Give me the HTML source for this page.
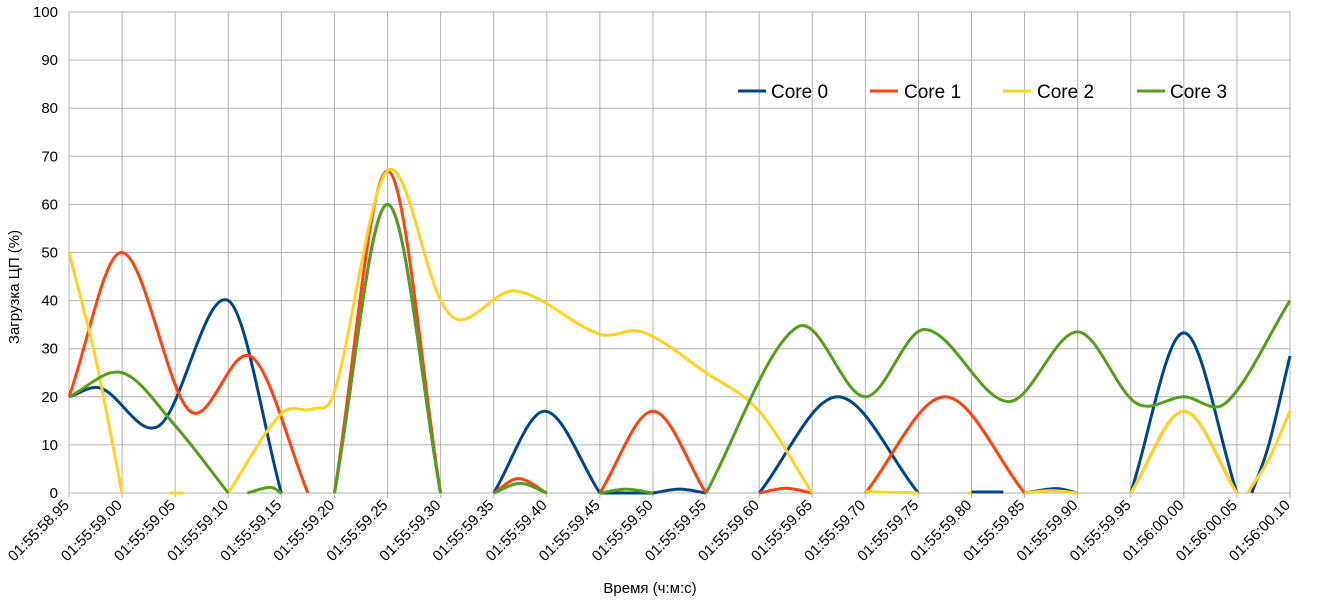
<!DOCTYPE html>
<html><head><meta charset="utf-8"><style>
html,body{margin:0;padding:0;background:#fff;}
svg{display:block;font-family:"Liberation Sans","DejaVu Sans",sans-serif;}
</style></head><body>
<svg id="chart" width="1332" height="602" viewBox="0 0 1332 602" xmlns="http://www.w3.org/2000/svg">
<g id="grid"></g>
<g id="yticks"></g>
<g id="xticks"></g>
<g id="series"></g>
<text x="19" y="287" font-size="15" text-anchor="middle" transform="rotate(-90 19 287)">Загрузка ЦП (%)</text>
<text x="650" y="593" font-size="15" text-anchor="middle">Время (ч:м:с)</text>
<g font-size="19">
<g><line x1="738" y1="91" x2="766" y2="91" stroke="#004586" stroke-width="3"/><text x="771" y="98">Core 0</text></g>
<g><line x1="870" y1="91" x2="898" y2="91" stroke="#ff420e" stroke-width="3"/><text x="904" y="98">Core 1</text></g>
<g><line x1="1003" y1="91" x2="1031" y2="91" stroke="#ffd320" stroke-width="3"/><text x="1037" y="98">Core 2</text></g>
<g><line x1="1137" y1="91" x2="1165" y2="91" stroke="#579d1c" stroke-width="3"/><text x="1170" y="98">Core 3</text></g>
</g>
</svg>
<script>
const yTicks = [0,10,20,30,40,50,60,70,80,90,100];
const xTickLabels = ["01:55:58.95","01:55:59.00","01:55:59.05","01:55:59.10","01:55:59.15","01:55:59.20","01:55:59.25","01:55:59.30","01:55:59.35","01:55:59.40","01:55:59.45","01:55:59.50","01:55:59.55","01:55:59.60","01:55:59.65","01:55:59.70","01:55:59.75","01:55:59.80","01:55:59.85","01:55:59.90","01:55:59.95","01:56:00.00","01:56:00.05","01:56:00.10"];
// times in seconds after 01:55:00; segments separated (gaps)
const core0 = [
 [[58.95,20],[58.98,21.8],[59.035,14],[59.10,40],[59.15,0]],
 [[59.20,0],[59.25,60],[59.30,0]],
 [[59.35,0],[59.398,17],[59.45,0]],
 [[59.45,0],[59.50,0]],
 [[59.50,0],[59.525,0.8],[59.55,0]],
 [[59.60,0],[59.674,20],[59.75,0]],
 [[59.80,0.2],[59.83,0.2]],
 [[59.85,0],[59.88,0.9],[59.90,0]],
 [[59.95,0],[60.00,33.3],[60.05,0]],
 [[60.064,0],[60.08,10],[60.10,28.5]]
];
const core1 = [
 [[58.95,20],[59.00,50],[59.064,17],[59.122,28.3],[59.175,0]],
 [[59.20,0],[59.25,67],[59.30,0]],
 [[59.35,0],[59.373,3],[59.40,0]],
 [[59.45,0],[59.50,17],[59.55,0]],
 [[59.60,0],[59.625,1],[59.65,0]],
 [[59.70,0],[59.775,20],[59.85,0]],
 [[59.95,0],[60.00,17],[60.05,0]]
];
const core2 = [
 [[58.95,50],[58.975,28],[59.00,0]],
 [[59.045,0],[59.058,0]],
 [[59.10,0],[59.15,16.5],[59.18,17.5],[59.20,21],[59.25,67],[59.30,40],[59.32,36],[59.37,42],[59.45,33],[59.49,33.5],[59.55,25],[59.60,17],[59.65,0]],
 [[59.70,0.3],[59.75,0]],
 [[59.797,0],[59.80,0]],
 [[59.85,0],[59.875,0.5],[59.90,0]],
 [[59.95,0],[60.00,17],[60.05,0]],
 [[60.06,0],[60.08,7],[60.10,17]]
];
const core3 = [
 [[58.95,20],[59.00,25],[59.05,14],[59.10,0]],
 [[59.118,0],[59.14,1.2],[59.15,0]],
 [[59.20,0],[59.25,60],[59.30,0]],
 [[59.35,0],[59.375,2],[59.40,0]],
 [[59.45,0],[59.475,0.8],[59.50,0]],
 [[59.55,0],[59.636,34.5],[59.70,20],[59.756,34],[59.835,19],[59.90,33.5],[59.955,18.7],[60.00,20],[60.04,18.8],[60.10,40]]
];
const seriesList = [["core-0",core0,"#004586"],["core-1",core1,"#ff420e"],["core-2",core2,"#ffd320"],["core-3",core3,"#579d1c"]];

const X0=69, X1=1290, Y0=493, Y1=12, T0=58.95, T1=60.10;
const xs = t => X0 + (t-T0)/(T1-T0)*(X1-X0);
const ys = v => Y0 - v/100*(Y0-Y1);
const NS="http://www.w3.org/2000/svg";
function mk(tag, attrs, parent){const e=document.createElementNS(NS,tag);for(const k in attrs)e.setAttribute(k,attrs[k]);parent.appendChild(e);return e;}
const grid=document.getElementById('grid'), yt=document.getElementById('yticks'), xt=document.getElementById('xticks'), sg=document.getElementById('series');
yTicks.forEach(v=>{
 const l=mk('line',{x1:X0,x2:X1,y1:ys(v),y2:ys(v),stroke:'#b3b3b3','stroke-width':1},grid);
 
 
 const t=mk('text',{x:X0-11,y:ys(v)+5,'font-size':15,'text-anchor':'end'},yt);
 
 
 t.textContent=v;
});
xTickLabels.forEach((s,i)=>{
 const x=X0+i*(X1-X0)/(xTickLabels.length-1);
 const l=mk('line',{x1:x,x2:x,y1:Y1,y2:Y0+5,stroke:'#b3b3b3','stroke-width':1},grid);
 
 
 const t=mk('text',{x:x+1,y:Y0+13,'font-size':15,'text-anchor':'end',transform:`rotate(-45 ${x+1} ${Y0+13})`},xt);
 
 
 t.textContent=s;
});
function pathFor(pts){
 const P=pts.map(p=>[xs(p[0]),ys(p[1])]);
 const n=P.length; const m=[];
 for(let i=0;i<n;i++){
  if(n<2){m.push(0);continue;}
  if(i===0) m.push((P[1][1]-P[0][1])/(P[1][0]-P[0][0]));
  else if(i===n-1) m.push((P[n-1][1]-P[n-2][1])/(P[n-1][0]-P[n-2][0]));
  else m.push((P[i+1][1]-P[i-1][1])/(P[i+1][0]-P[i-1][0]));
 }
 let d=`M${P[0][0]},${P[0][1]}`;
 for(let i=0;i<n-1;i++){
  const dx=(P[i+1][0]-P[i][0])/3;
  d+=` C${P[i][0]+dx},${P[i][1]+m[i]*dx} ${P[i+1][0]-dx},${P[i+1][1]-m[i+1]*dx} ${P[i+1][0]},${P[i+1][1]}`;
 }
 return d;
}
seriesList.forEach(([name,segs,col])=>{
 const g=mk('g',{},sg);
 
 
 segs.forEach(seg=>{
  const p=mk('path',{d:pathFor(seg),fill:'none',stroke:col,'stroke-width':3,'stroke-linejoin':'round'},g);
  
  
 });
});
</script>
</body></html>
